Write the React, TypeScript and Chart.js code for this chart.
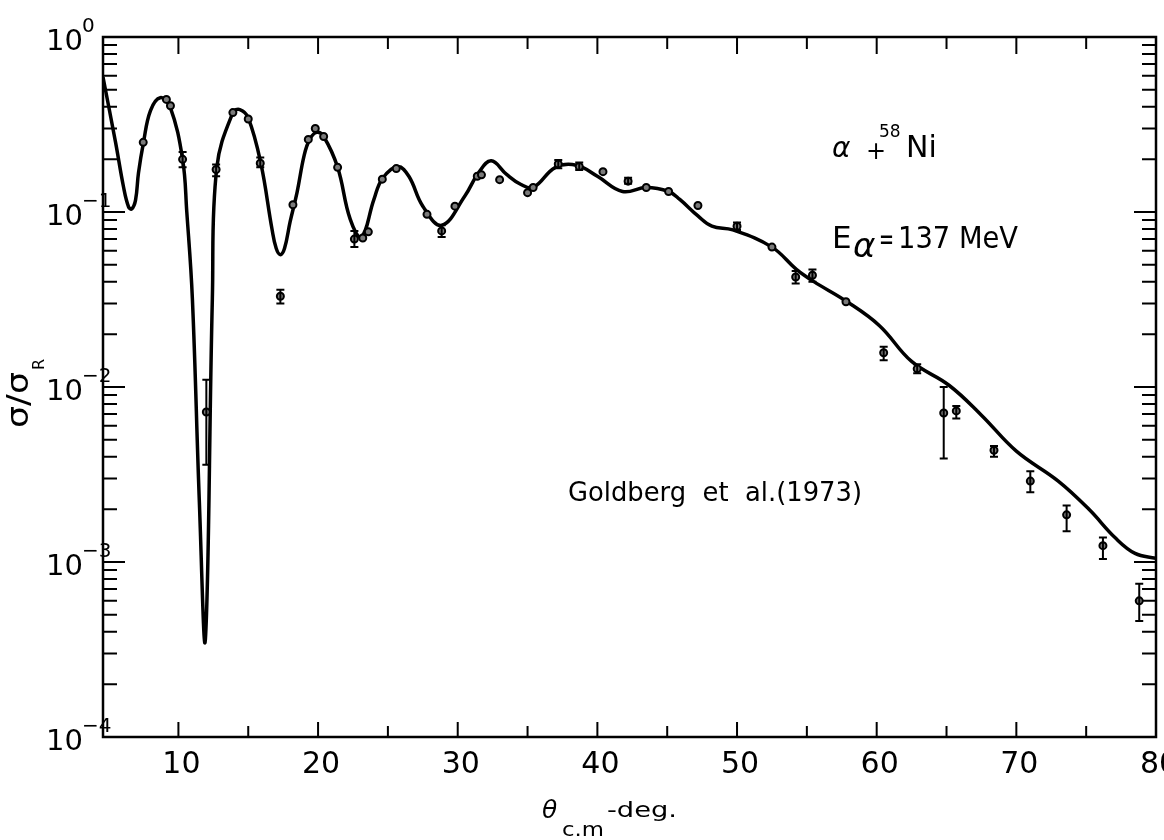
import React, { useEffect, useRef } from 'react';
import { Chart, registerables } from 'chart.js';

Chart.register(...registerables);

// Optical-model curve (theta c.m. in deg, sigma/sigma_R)
const curveTheta = [
  4.6, 5.5, 6.07, 6.43, 6.65, 6.93, 7.14, 7.5, 8.0, 8.7, 9.4, 10.3, 10.6, 11.0, 11.5, 11.93, 12.43, 12.75,
  13.9, 14.4, 15.0, 15.9, 16.7, 17.0, 17.3, 17.6, 18.0, 18.5, 19.0, 19.4, 19.9, 20.4, 21.4, 22.3, 23.1, 24.0,
  24.6, 25.7, 26.5, 27.5, 28.86, 30.5, 31.5, 32.4, 33.5, 34.5, 35.4, 37.0, 38.5, 40.0, 41.8,
  43.5, 45.1, 45.9, 47.2, 48.2, 49.7, 52.5, 54.25, 55.5, 57.8, 60.2, 62.5, 65.2, 67.5, 70.0,
  73.0, 75.2, 77.1, 78.5, 80.0,
];
const curveSigma = [
  0.59, 0.25, 0.139, 0.107, 0.104, 0.117, 0.167, 0.25, 0.38, 0.45, 0.40, 0.20, 0.1, 0.032, 0.0022, 0.00036, 0.032, 0.18,
  0.37, 0.385, 0.345, 0.19, 0.08, 0.062, 0.057, 0.062, 0.088, 0.13, 0.21, 0.26, 0.285, 0.27, 0.18, 0.091, 0.072, 0.118,
  0.155, 0.182, 0.16, 0.108, 0.084, 0.123, 0.168, 0.196, 0.164, 0.144, 0.138, 0.18, 0.185, 0.16, 0.131,
  0.138, 0.131, 0.118, 0.095, 0.083, 0.079, 0.063, 0.047, 0.040, 0.031, 0.0224, 0.014, 0.0102, 0.0069, 0.0043,
  0.0029, 0.0020, 0.00137, 0.00112, 0.00105,
];

// Measured points (Goldberg et al. 1973)
const dataTheta = [
  7.48, 9.14, 9.43, 10.3, 12.0, 12.7, 13.9, 15.0, 15.86, 17.3, 18.2, 19.3, 19.8, 20.4, 21.4,
  22.6, 23.2, 23.6, 24.6, 25.6, 27.8, 28.85, 29.8, 31.4, 31.7, 33.0, 35.0, 35.4, 37.2, 38.7,
  40.4, 42.2, 43.5, 45.1, 47.2, 50.0, 52.5, 54.2, 55.4, 57.8, 60.5, 62.9, 64.8, 65.7, 68.4,
  71.0, 73.6, 76.2, 78.8,
];
const dataSigma = [
  0.25, 0.44, 0.405, 0.20, 0.0072, 0.175, 0.37, 0.34, 0.19, 0.033, 0.11, 0.26, 0.30, 0.27, 0.18,
  0.070, 0.071, 0.077, 0.154, 0.177, 0.097, 0.078, 0.108, 0.16, 0.163, 0.153, 0.129, 0.138, 0.188, 0.182,
  0.17, 0.15, 0.138, 0.131, 0.109, 0.083, 0.063, 0.0425, 0.0435, 0.0307, 0.0157, 0.0127, 0.0071, 0.0073, 0.00435,
  0.0029, 0.00186, 0.00124, 0.0006,
];
const errLow = [
  null, null, null, 0.18, 0.0036, 0.16, null, null, 0.18, 0.030, null, null, null, null, null,
  0.063, null, null, null, null, null, 0.072, null, null, null, null, null, null, 0.178, 0.174,
  null, 0.145, null, null, null, 0.079, null, 0.039, 0.040, null, 0.0142, 0.012, 0.0039, 0.0066, 0.0040,
  0.0025, 0.0015, 0.00104, 0.00046,
];
const errHigh = [
  null, null, null, 0.22, 0.011, 0.187, null, null, 0.205, 0.036, null, null, null, null, null,
  0.078, null, null, null, null, null, 0.084, null, null, null, null, null, null, 0.198, 0.192,
  null, 0.157, null, null, null, 0.087, null, 0.046, 0.047, null, 0.017, 0.0135, 0.010, 0.0078, 0.0046,
  0.0033, 0.0021, 0.00138, 0.00075,
];

const xTickValues = [10, 20, 30, 40, 50, 60, 70, 80];
const xTickLabels = ['10', '20', '30', '40', '50', '60', '70', '80'];
const yDecadeExps = [0, -1, -2, -3, -4];
const yDecadeSupLabels = ['0', '−1', '−2', '−3', '−4'];

const FONT = '"DejaVu Sans", sans-serif';

function fitText(ctx: CanvasRenderingContext2D, text: string, x: number, y: number, width: number) {
  const w = ctx.measureText(text).width;
  ctx.save();
  ctx.translate(x, y);
  ctx.scale(width / w, 1);
  ctx.fillText(text, 0, 0);
  ctx.restore();
}

const decor = {
  id: 'decor',
  afterDatasetsDraw(chart: any) {
    const { ctx, scales } = chart;
    const xs = scales.x;
    const ys = scales.y;
    ctx.save();
    ctx.strokeStyle = '#000';
    ctx.lineWidth = 2;
    dataTheta.forEach((t, i) => {
      const lo = errLow[i];
      const hi = errHigh[i];
      if (lo == null || hi == null) return;
      const px = xs.getPixelForValue(t);
      const p1 = ys.getPixelForValue(lo);
      const p2 = ys.getPixelForValue(hi);
      ctx.beginPath();
      ctx.moveTo(px, p1);
      ctx.lineTo(px, p2);
      ctx.moveTo(px - 4, p1);
      ctx.lineTo(px + 4, p1);
      ctx.moveTo(px - 4, p2);
      ctx.lineTo(px + 4, p2);
      ctx.stroke();
    });
    ctx.restore();
  },
  afterDraw(chart: any) {
    const { ctx, chartArea: a, scales } = chart;
    const xs = scales.x;
    const ys = scales.y;
    ctx.save();
    ctx.strokeStyle = '#000';
    ctx.fillStyle = '#000';
    ctx.lineWidth = 2.5;
    ctx.strokeRect(a.left, a.top, a.right - a.left, a.bottom - a.top);

    // x ticks (inward)
    ctx.lineWidth = 2;
    ctx.beginPath();
    for (let v = 10; v < 80; v += 5) {
      const px = xs.getPixelForValue(v);
      const major = v % 10 === 0;
      ctx.moveTo(px, a.bottom);
      ctx.lineTo(px, a.bottom - (major ? 15 : 11));
      ctx.moveTo(px, a.top);
      ctx.lineTo(px, a.top + (major ? 17 : 12));
    }
    // y ticks (log, inward both sides)
    for (let d = -4; d <= 0; d++) {
      for (let m = 1; m <= 9; m++) {
        if (d === 0 && m > 1) break;
        const v = m * Math.pow(10, d);
        const py = ys.getPixelForValue(v);
        const len = m === 1 ? 22 : 14;
        ctx.moveTo(a.left, py);
        ctx.lineTo(a.left + len, py);
        ctx.moveTo(a.right, py);
        ctx.lineTo(a.right - len, py);
      }
    }
    ctx.stroke();

    // x tick labels
    ctx.font = `30px ${FONT}`;
    ctx.textAlign = 'center';
    ctx.textBaseline = 'alphabetic';
    xTickValues.forEach((v, i) => {
      const px = xs.getPixelForValue(v);
      ctx.fillText(xTickLabels[i], px + 3, a.bottom + 36);
    });

    // y tick labels 10^n
    ctx.textAlign = 'left';
    yDecadeExps.forEach((e, i) => {
      const py = ys.getPixelForValue(Math.pow(10, e));
      ctx.font = `29px ${FONT}`;
      const x0 = 46;
      ctx.fillText('10', x0, py + 13);
      const w = ctx.measureText('10').width;
      ctx.font = `20px ${FONT}`;
      ctx.fillText(yDecadeSupLabels[i], x0 + w - 1, py - 5);
    });

    // y axis title: sigma/sigma_R (rotated)
    ctx.save();
    ctx.translate(28, 428);
    ctx.rotate(-Math.PI / 2);
    ctx.font = `31px ${FONT}`;
    fitText(ctx, 'σ/σ', 0, 0, 56);
    ctx.font = `16px ${FONT}`;
    ctx.fillText('R', 58, 16);
    ctx.restore();

    // x axis title: theta_c.m - deg.
    ctx.font = `italic 25px ${FONT}`;
    ctx.fillText('θ', 542, 818);
    ctx.font = `19px ${FONT}`;
    fitText(ctx, 'c.m', 562, 836, 42);
    ctx.font = `22px ${FONT}`;
    fitText(ctx, '-deg.', 607, 817, 70);

    // annotations
    ctx.font = `italic 28px ${FONT}`;
    ctx.fillText('α', 832, 157);
    ctx.font = `24px ${FONT}`;
    ctx.fillText('+', 866, 159);
    ctx.font = `17px ${FONT}`;
    ctx.fillText('58', 879, 137);
    ctx.font = `30px ${FONT}`;
    ctx.fillText('Ni', 906, 157);

    ctx.font = `31px ${FONT}`;
    ctx.fillText('E', 832, 248);
    ctx.font = `italic 34px ${FONT}`;
    ctx.fillText('α', 853, 257);
    ctx.font = `31px ${FONT}`;
    fitText(ctx, '=', 879, 249, 15);
    fitText(ctx, '137 MeV', 898, 248, 120);

    ctx.font = `27px ${FONT}`;
    fitText(ctx, 'Goldberg  et  al.(1973)', 568, 501, 294);

    ctx.restore();
  },
};

export default function App() {
  const canvasRef = useRef<HTMLCanvasElement | null>(null);

  useEffect(() => {
    const canvas = canvasRef.current;
    if (!canvas) return;
    const chart = new Chart(canvas, {
      type: 'scatter',
      data: {
        datasets: [
          {
            label: 'theory',
            data: curveTheta.map((t, i) => ({ x: t, y: curveSigma[i] })),
            showLine: true,
            borderColor: '#000',
            borderWidth: 3.5,
            pointRadius: 0,
            tension: 0.4,
            order: 1,
          } as any,
          {
            label: 'data',
            data: dataTheta.map((t, i) => ({ x: t, y: dataSigma[i] })),
            showLine: false,
            pointRadius: 3.5,
            pointBorderWidth: 2,
            pointBackgroundColor: '#7a7a7a',
            pointBorderColor: '#000',
            order: 0,
          } as any,
        ],
      },
      options: {
        responsive: false,
        maintainAspectRatio: false,
        devicePixelRatio: 1,
        animation: false,
        layout: { padding: { left: 103, right: 8, top: 37, bottom: 103 } },
        plugins: {
          legend: { display: false },
          tooltip: { enabled: false },
        },
        scales: {
          x: { type: 'linear', min: 4.6, max: 80, display: false },
          y: { type: 'logarithmic', min: 1e-4, max: 1, display: false },
        },
      },
      plugins: [decor],
    });
    return () => chart.destroy();
  }, []);

  return (
    <div style={{ position: 'fixed', left: 0, top: 0, width: 1164, height: 840, background: '#fff' }}>
      <canvas ref={canvasRef} width={1164} height={840} style={{ display: 'block' }} />
    </div>
  );
}
